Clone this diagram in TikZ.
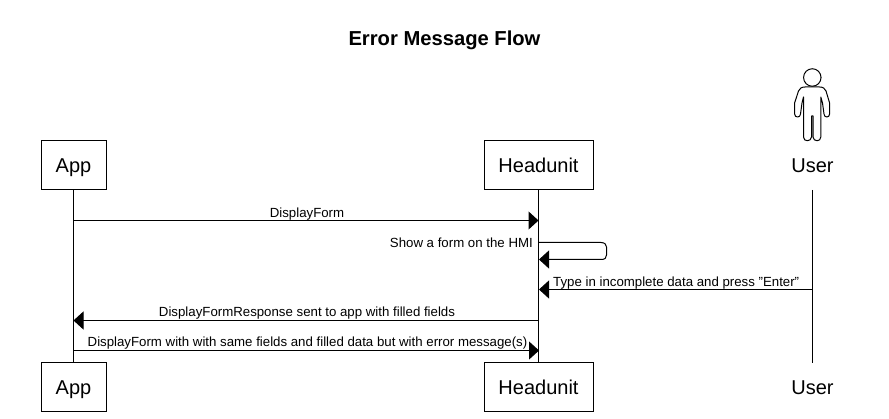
\documentclass[tikz,border=0pt]{standalone}
\usepackage{fontspec}
\setmainfont[Ligatures=NoCommon]{Liberation Sans}
\usetikzlibrary{arrows.meta}
\tikzset{
  x=1pt,y=-1pt,
  lane/.style={draw=black,line width=1pt,fill=white,minimum height=49pt,inner sep=0pt,text height=14.5pt,text depth=0pt,font=\fontsize{20}{24}\selectfont,anchor=center},
  ghost/.style={inner sep=0pt,text height=14.5pt,text depth=0pt,font=\fontsize{20}{24}\selectfont,anchor=center},
  life/.style={draw=black,line width=1pt},
  msg/.style={draw=black,line width=1pt,-{Triangle[length=10pt,width=18pt]}},
  lbl/.style={inner sep=0pt,font=\fontsize{13.25}{15}\selectfont,anchor=base},
  actor/.style={draw=black,line width=1pt,fill=white,line join=round}
}
\begin{document}
\begin{tikzpicture}
\useasboundingbox[fill=white] (0,0) rectangle (889,419);
\node[font=\bfseries\fontsize{20.2}{24}\selectfont,inner sep=0pt] (title) at (444.5,40) {Error Message Flow};
% lifeline anchors
\coordinate (uTop) at (812,190);
\coordinate (uBot) at (812,363);
\node[lane,minimum width=65pt] (appT) at (73.5,165.5) {App};
\node[lane,minimum width=109pt] (huT) at (538.5,165.5) {Headunit};
\node[lane,minimum width=65pt] (appB) at (73.5,387.5) {App};
\node[lane,minimum width=109pt] (huB) at (538.5,387.5) {Headunit};
\node[ghost] (userT) at (812.5,165.5) {User};
\node[ghost] (userB) at (812.5,387.5) {User};
\draw[life] (appT.south) -- (appB.north);
\draw[life] (huT.south) -- (huB.north);
\draw[life] (uTop) -- (uBot);
% actor
\node[draw=black,line width=1pt,circle,minimum size=17.5pt,inner sep=0pt] (head) at (812.3,77.5) {};
\draw[actor] (805,87) -- (819.6,87)
  .. controls (823,87) and (825,88.5) .. (826,91)
  -- (829.6,103) -- (829.6,114)
  .. controls (829.6,118) and (824,118) .. (824,114)
  -- (822.5,103) -- (820.8,97) -- (820.8,137)
  .. controls (820.8,142) and (813.5,142) .. (813,137)
  -- (813,116) -- (811.5,116) -- (811.5,137)
  .. controls (811,142) and (803.5,142) .. (803.5,137)
  -- (803.5,97) -- (802,103) -- (800.5,114)
  .. controls (800.5,118) and (794.6,118) .. (794.6,114)
  -- (794.6,103) -- (798.5,91)
  .. controls (799.5,88.5) and (801.5,87) .. (805,87) -- cycle;
% messages
\coordinate (m1a) at (73.5,220.5); \coordinate (m1b) at (538.5,220.5);
\draw[msg] (m1a) -- (m1b);
\node[lbl] (l1) at (307,218) {DisplayForm};
\coordinate (s0) at (539,242.5); \coordinate (s1) at (539,259.5);
\draw[msg] (s0) -- (601,242.5) .. controls (605,242.5) and (606.5,245) .. (606.5,247)
  -- (606.5,255) .. controls (606.5,258) and (605,259.5) .. (601,259.5) -- (s1);
\node[lbl,anchor=base east] (l2) at (533,248) {Show a form on the HMI};
\coordinate (m3a) at (812,289.5); \coordinate (m3b) at (539,289.5);
\draw[msg] (m3a) -- (m3b);
\node[lbl,anchor=base west] (l3) at (553,287) {Type in incomplete data and press \char34 Enter\char34};
\coordinate (m4a) at (539,320.5); \coordinate (m4b) at (73.5,320.5);
\draw[msg] (m4a) -- (m4b);
\node[lbl] (l4) at (307,317) {DisplayFormResponse sent to app with filled fields};
\coordinate (m5a) at (73.5,350.5); \coordinate (m5b) at (539,350.5);
\draw[msg] (m5a) -- (m5b);
\node[lbl] (l5) at (307.5,347) {DisplayForm with with same fields and filled data but with error message(s)};
\end{tikzpicture}
\end{document}
